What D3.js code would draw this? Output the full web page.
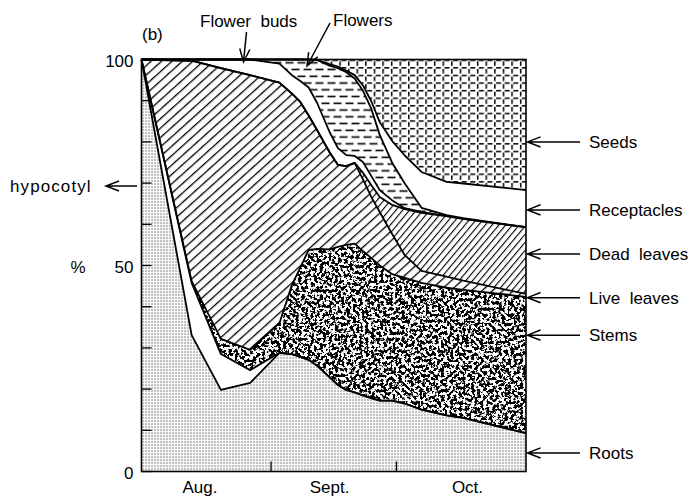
<!DOCTYPE html>
<html lang="en">
<head>
    <meta charset="utf-8">
    <title>Dry matter allocation (b)</title>
    <script src="https://d3js.org/d3.v7.min.js"></script>
    <style>
        body { margin: 0; background: #fff; }
        svg text {
            font-family: "Liberation Sans", Arial, sans-serif;
            font-size: 17px;
            fill: #000;
            white-space: pre;
        }
        .edge { fill: none; stroke: #000; stroke-width: 1.8px; stroke-linejoin: round; }
        .arrow { fill: none; stroke: #000; stroke-width: 1.5px; }
    </style>
</head>
<body>
<svg width="696" height="498"></svg>
<script>
// sampling dates and % of total dry weight in each fraction
var dates       = ["1975-08-01", "1975-08-13", "1975-08-20", "1975-08-27", "1975-09-03", "1975-09-06",
                   "1975-09-08", "1975-09-10", "1975-09-12", "1975-09-15", "1975-09-17", "1975-09-19",
                   "1975-09-21", "1975-09-23", "1975-09-25", "1975-09-27", "1975-09-30", "1975-10-03",
                   "1975-10-07", "1975-10-13", "1975-10-17", "1975-11-01"];
var roots       = [100, 33.1, 19.8, 21.5, 28.8, 28.5, 27.8, 27.1, 25.7, 22.9, 21.0, 19.8, 19.2, 18.5, 17.8, 17.2, 17.2, 16.5, 15.0, 13.6, 13.0, 9.3];
var hypocotyl   = [0, 12.7, 8.7, 3.1, 0, 0, 0, 0, 0, 0, 0, 0, 0, 0, 0, 0, 0, 0, 0, 0, 0, 0];
var stems       = [0, 0.4, 3.7, 4.9, 7.2, 16.8, 21.7, 26.7, 28.3, 31.0, 33.5, 35.2, 36.1, 35.0, 34.0, 32.8, 30.7, 30.5, 30.8, 31.0, 31.1, 33.1];
var liveLeaves  = [0, 53.5, 65.7, 66.7, 58.4, 46.4, 40.2, 32.6, 28.9, 23.6, 19.9, 19.1, 19.6, 17.4, 14.8, 13.0, 9.7, 5.5, 2.9, 2.7, 2.2, 0.7];
var deadLeaves  = [0, 0, 0, 0, 0, 0, 0, 0, 0, 0, 0, 0, 0, 1.6, 2.9, 3.6, 7.1, 11.2, 14.1, 14.7, 15.0, 16.2];
var flowerBuds  = [0, 0.3, 2.1, 3.8, 4.6, 4.5, 5.1, 6.8, 6.6, 4.9, 4.1, 2.7, 1.7, 2.6, 2.2, 1.7, 1.1, 0.2, 0.2, 0, 0, 0];
var flowers     = [0, 0, 0, 0, 1.0, 3.8, 5.2, 6.8, 10.4, 16.1, 19.4, 20.1, 18.8, 17.3, 16.3, 13.4, 9.1, 6.0, 1.0, 0.2, 0.2, 0];
var receptacles = [0, 0, 0, 0, 0, 0, 0, 0, 0, 0.4, 0.4, 0.4, 0.8, 1.3, 1.8, 3.1, 5.3, 6.8, 8.7, 8.1, 8.4, 9.0];
var seeds       = [0, 0, 0, 0, 0, 0, 0, 0, 0.1, 1.1, 1.7, 2.7, 3.8, 6.3, 10.2, 15.2, 19.8, 23.3, 27.3, 29.7, 30.1, 31.7];

var yTicks      = [0, 10, 20, 30, 40, 50, 60, 70, 80, 90, 100];
var yLabels     = [0, 50, 100];
var monthTicks  = ["1975-09-01", "1975-10-01"];
var monthNames  = ["Aug.", "Sept.", "Oct."];
var monthMids   = ["1975-08-15", "1975-09-15", "1975-10-18"];

var rightLabels = ["Seeds", "Receptacles", "Dead  leaves", "Live  leaves", "Stems", "Roots"];
var rightLevels = [80, 63.5, 52.8, 42.2, 33.1, 4.5];

var keys = ["roots", "hypocotyl", "stems", "liveLeaves", "deadLeaves", "flowerBuds", "flowers", "receptacles", "seeds"];
var series = {roots: roots, hypocotyl: hypocotyl, stems: stems, liveLeaves: liveLeaves, deadLeaves: deadLeaves,
              flowerBuds: flowerBuds, flowers: flowers, receptacles: receptacles, seeds: seeds};

var parseDate = d3.timeParse("%Y-%m-%d");
var table = dates.map(function(d, i) {
    var row = {date: parseDate(d)};
    keys.forEach(function(k) { row[k] = series[k][i]; });
    return row;
});

var svg = d3.select("svg"),
    margin = {top: 59.5, right: 170, bottom: 26.5, left: 141.5},
    width = +svg.attr("width") - margin.left - margin.right,
    height = +svg.attr("height") - margin.top - margin.bottom;

var defs = svg.append("defs");

// roots: fine stipple
var p = defs.append("pattern").attr("id", "dots").attr("patternUnits", "userSpaceOnUse")
    .attr("width", 3).attr("height", 3);
p.append("rect").attr("width", 3).attr("height", 3).attr("fill", "#fff");
p.append("rect").attr("x", 1).attr("y", 1).attr("width", 1.1).attr("height", 1.1).attr("fill", "#222");

// live leaves: wide hatch
p = defs.append("pattern").attr("id", "live").attr("patternUnits", "userSpaceOnUse")
    .attr("width", 7).attr("height", 7).attr("patternTransform", "rotate(-42)");
p.append("rect").attr("width", 7).attr("height", 7).attr("fill", "#fff");
p.append("rect").attr("width", 7).attr("height", 1.3).attr("fill", "#000");

// dead leaves: fine hatch
p = defs.append("pattern").attr("id", "dead").attr("patternUnits", "userSpaceOnUse")
    .attr("width", 5.2).attr("height", 5.2).attr("patternTransform", "rotate(-50)");
p.append("rect").attr("width", 5.2).attr("height", 5.2).attr("fill", "#fff");
p.append("rect").attr("width", 5.2).attr("height", 1.1).attr("fill", "#000");

// flowers: staggered horizontal dashes
p = defs.append("pattern").attr("id", "dash").attr("patternUnits", "userSpaceOnUse")
    .attr("width", 12).attr("height", 13.5);
p.append("rect").attr("width", 12).attr("height", 13.5).attr("fill", "#fff");
p.append("rect").attr("x", 0).attr("y", 2.5).attr("width", 8).attr("height", 1.6).attr("fill", "#000");
p.append("rect").attr("x", 6).attr("y", 9.25).attr("width", 6).attr("height", 1.6).attr("fill", "#000");
p.append("rect").attr("x", 0).attr("y", 9.25).attr("width", 2).attr("height", 1.6).attr("fill", "#000");

// seeds: dashed grid
p = defs.append("pattern").attr("id", "grid").attr("patternUnits", "userSpaceOnUse")
    .attr("width", 8.6).attr("height", 7.6);
p.append("rect").attr("width", 8.6).attr("height", 7.6).attr("fill", "#fff");
p.append("rect").attr("x", 2).attr("y", 0).attr("width", 5).attr("height", 1.5).attr("fill", "#000");
p.append("rect").attr("x", 0).attr("y", 1.8).attr("width", 1.5).attr("height", 4.6).attr("fill", "#000");

// stems: dark mottled texture
var f = defs.append("filter").attr("id", "noise").attr("filterUnits", "userSpaceOnUse")
    .attr("x", -5).attr("y", -5).attr("width", width + 10).attr("height", height + 10)
    .attr("color-interpolation-filters", "sRGB");
f.append("feTurbulence").attr("type", "fractalNoise").attr("baseFrequency", 0.33)
    .attr("numOctaves", 3).attr("seed", 5).attr("result", "n");
f.append("feColorMatrix").attr("in", "n").attr("type", "matrix")
    .attr("values", "0 0 0 0 0  0 0 0 0 0  0 0 0 0 0  1 0 0 0 0").attr("result", "a");
f.append("feComponentTransfer").attr("in", "a").attr("result", "b")
    .append("feFuncA").attr("type", "linear").attr("slope", 14).attr("intercept", -6.5);
f.append("feFlood").attr("flood-color", "#fff").attr("result", "w");
var m = f.append("feMerge").attr("result", "mm");
m.append("feMergeNode").attr("in", "w");
m.append("feMergeNode").attr("in", "b");
f.append("feComposite").attr("in", "mm").attr("in2", "SourceGraphic").attr("operator", "in");

var fills = {roots: "url(#dots)", hypocotyl: "#fff", stems: "#fff", liveLeaves: "url(#live)",
             deadLeaves: "url(#dead)", flowerBuds: "#fff", flowers: "url(#dash)",
             receptacles: "#fff", seeds: "url(#grid)"};

var g = svg.append("g").attr("transform", "translate(" + margin.left + "," + margin.top + ")");

var x = d3.scaleTime().domain([parseDate("1975-08-01"), parseDate("1975-11-01")]).range([0, width]),
    y = d3.scaleLinear().domain([0, 100]).range([height, 0]);

var stacked = d3.stack().keys(keys)(table);

var area = d3.area()
    .x(function(d) { return x(d.data.date); })
    .y0(function(d) { return y(d[0]); })
    .y1(function(d) { return y(d[1]); });

var edge = d3.line()
    .x(function(d) { return x(d.data.date); })
    .y(function(d) { return y(d[1]); });

g.selectAll(".layer")
    .data(stacked)
    .enter().append("path")
    .attr("class", "layer")
    .attr("d", area)
    .attr("fill", function(d) { return fills[d.key]; })
    .attr("filter", function(d) { return d.key === "stems" ? "url(#noise)" : null; });

g.selectAll(".edge")
    .data(stacked.filter(function(d) { return d.key !== "seeds"; }))
    .enter().append("path")
    .attr("class", "edge")
    .attr("d", edge);

// frame
g.append("rect").attr("width", width).attr("height", height)
    .attr("fill", "none").attr("stroke", "#000").attr("stroke-width", 1.6);

// inward ticks
g.selectAll(".ytick").data(yTicks).enter().append("line")
    .attr("x1", 0).attr("x2", 10)
    .attr("y1", function(d) { return y(d); }).attr("y2", function(d) { return y(d); })
    .attr("stroke", "#000").attr("stroke-width", 1.3);

g.selectAll(".xtick").data(monthTicks).enter().append("line")
    .attr("x1", function(d) { return x(parseDate(d)); }).attr("x2", function(d) { return x(parseDate(d)); })
    .attr("y1", height).attr("y2", height - 10)
    .attr("stroke", "#000").attr("stroke-width", 1.3);

g.selectAll(".ylab").data(yLabels).enter().append("text")
    .attr("x", -8).attr("y", function(d) { return y(d) + 7; })
    .attr("text-anchor", "end")
    .text(function(d) { return d; });

g.selectAll(".mlab").data(monthNames).enter().append("text")
    .attr("x", function(d, i) { return x(parseDate(monthMids[i])); })
    .attr("y", height + 21.5)
    .attr("text-anchor", "middle")
    .text(function(d) { return d; });

g.append("text").attr("x", -71).attr("y", y(50) + 7).text("%");

// open arrow from (x1,y1) to tip (x2,y2)
function arrow(x1, y1, x2, y2) {
    var a = Math.atan2(y1 - y2, x1 - x2), len = 14, sp = 0.37;
    var path = d3.path();
    path.moveTo(x1, y1); path.lineTo(x2, y2);
    path.moveTo(x2 + len * Math.cos(a + sp), y2 + len * Math.sin(a + sp));
    path.lineTo(x2, y2);
    path.lineTo(x2 + len * Math.cos(a - sp), y2 + len * Math.sin(a - sp));
    svg.append("path").attr("class", "arrow").attr("d", path.toString());
}

rightLabels.forEach(function(t, i) {
    var yy = margin.top + y(rightLevels[i]);
    arrow(580, yy, margin.left + width + 1.5, yy);
    svg.append("text").attr("x", 589).attr("y", yy + 6).text(t);
});

svg.append("text").attr("x", 10).attr("y", 192).attr("letter-spacing", 1.1).text("hypocotyl");
arrow(137, 186, 106, 186);

svg.append("text").attr("x", 142).attr("y", 40).text("(b)");
svg.append("text").attr("x", 200).attr("y", 26.5).text("Flower  buds");
arrow(246.5, 32, 243.5, 62);
svg.append("text").attr("x", 333).attr("y", 26).text("Flowers");
arrow(330, 23, 307, 66);
</script>
</body>
</html>
